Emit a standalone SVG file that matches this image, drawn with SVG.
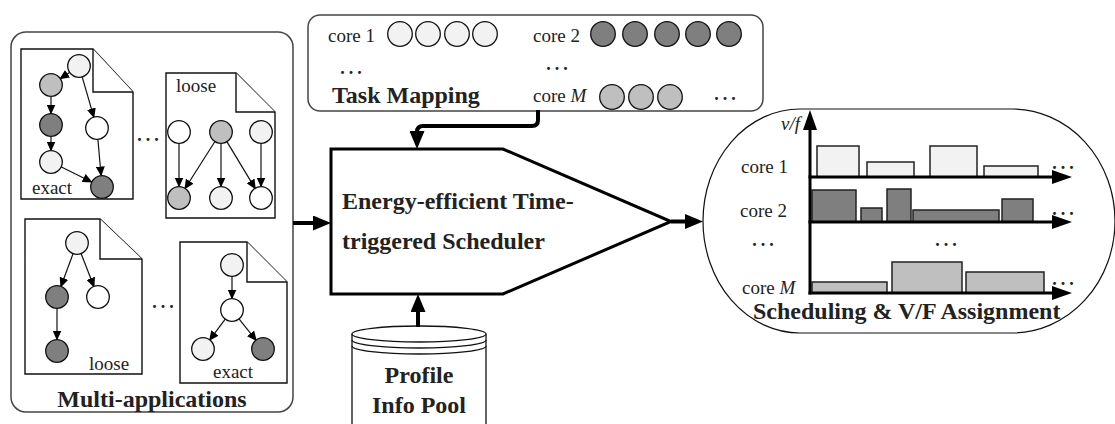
<svg xmlns="http://www.w3.org/2000/svg" width="1115" height="424" viewBox="0 0 1115 424">
<style>
.box{fill:none;stroke:#444;stroke-width:1.5}
.doc{fill:#fff;stroke:#111;stroke-width:1.4}
.n{stroke:#111;stroke-width:1.3}
.lt{fill:#f2f2f2}.gy{fill:#bfbfbf}.dk{fill:#7f7f7f}.wh{fill:#fff}
.e{stroke:#111;stroke-width:1.2;fill:none;marker-end:url(#ta)}
.thick{stroke:#000;stroke-width:4;fill:none;marker-end:url(#ba)}
.ax{stroke:#000;stroke-width:3;fill:none}
.t{font-family:"Liberation Serif","Times New Roman",serif;font-size:19px;fill:#222}
.b{font-family:"Liberation Serif","Times New Roman",serif;font-size:24px;font-weight:bold;fill:#222}
.d{font-family:"Liberation Serif","Times New Roman",serif;font-size:18px;font-weight:bold;fill:#222;letter-spacing:4px;text-anchor:middle}
.bar{stroke:#222;stroke-width:1.5}
</style>
<defs>
<marker id="ta" markerUnits="userSpaceOnUse" markerWidth="10" markerHeight="9" refX="9" refY="4.5" orient="auto"><path d="M0,0 L10,4.5 L0,9 z" fill="#000"/></marker>
<marker id="ba" markerUnits="userSpaceOnUse" markerWidth="18" markerHeight="15" refX="8" refY="7.5" orient="auto"><path d="M0,0 L18,7.5 L0,15 z" fill="#000"/></marker>
<marker id="axa" markerUnits="userSpaceOnUse" markerWidth="20" markerHeight="14" refX="6" refY="7" orient="auto"><path d="M0,0 L20,7 L0,14 z" fill="#000"/></marker>
</defs>

<g id="multi-applications">
<rect class="box" x="11" y="32" width="282" height="380" rx="15"/>
<text class="b" x="152" y="407" text-anchor="middle">Multi-applications</text>
<g id="app1">
<path class="doc" d="M21,49 L93,49 L133,92 L133,199 L21,199 Z"/>
<path class="doc" d="M93,49 L93,92 L133,92" fill="none"/>
<line class="e" x1="69.9" y1="72.2" x2="60.1" y2="78.8"/>
<line class="e" x1="51" y1="96.5" x2="51" y2="113.5"/>
<line class="e" x1="51" y1="136.5" x2="51" y2="150.5"/>
<line class="e" x1="82.1" y1="76.6" x2="93.9" y2="117.4"/>
<line class="e" x1="97.9" y1="139.5" x2="101.1" y2="175.5"/>
<line class="e" x1="60.9" y1="166.8" x2="91.7" y2="182"/>
<circle class="n lt" cx="79" cy="66" r="11.3"/>
<circle class="n gy" cx="51" cy="85" r="11.3"/>
<circle class="n dk" cx="51" cy="125" r="11.3"/>
<circle class="n lt" cx="51" cy="162" r="11.3"/>
<circle class="n wh" cx="97" cy="128" r="11.3"/>
<circle class="n dk" cx="102" cy="187" r="11.3"/>
<text class="t" x="32" y="194">exact</text>
</g>
<text class="d" x="150" y="141">...</text>
<g id="app2">
<path class="doc" d="M166,73 L236,73 L275,112 L275,218 L166,218 Z"/>
<path class="doc" d="M236,73 L236,112 L275,112" fill="none"/>
<line class="e" x1="179" y1="143.5" x2="179" y2="186.5"/>
<line class="e" x1="215.1" y1="141.3" x2="184.9" y2="188.7"/>
<line class="e" x1="221" y1="143.5" x2="221" y2="186.5"/>
<line class="e" x1="226.7" y1="141.4" x2="255.3" y2="188.6"/>
<line class="e" x1="261" y1="143.5" x2="261" y2="186.5"/>
<circle class="n wh" cx="179" cy="132" r="11.3"/>
<circle class="n gy" cx="221" cy="132" r="11.3"/>
<circle class="n lt" cx="261" cy="132" r="11.3"/>
<circle class="n gy" cx="179" cy="198" r="11.3"/>
<circle class="n lt" cx="221" cy="198" r="11.3"/>
<circle class="n wh" cx="261" cy="198" r="11.3"/>
<text class="t" x="176" y="92">loose</text>
</g>
<g id="app3">
<path class="doc" d="M25,219 L100,219 L142,259 L142,374 L25,374 Z"/>
<path class="doc" d="M100,219 L100,259 L142,259" fill="none"/>
<line class="e" x1="73.2" y1="253.3" x2="60.8" y2="286.7"/>
<line class="e" x1="81" y1="253.3" x2="94" y2="286.7"/>
<line class="e" x1="57" y1="308.5" x2="57" y2="339.5"/>
<circle class="n lt" cx="77" cy="243" r="11.3"/>
<circle class="n dk" cx="57" cy="297" r="11.3"/>
<circle class="n wh" cx="98" cy="297" r="11.3"/>
<circle class="n dk" cx="57" cy="351" r="11.3"/>
<text class="t" x="89" y="370">loose</text>
</g>
<text class="d" x="165" y="308">...</text>
<g id="app4">
<path class="doc" d="M180,242 L247,242 L287,282 L287,383 L180,383 Z"/>
<path class="doc" d="M247,242 L247,282 L287,282" fill="none"/>
<line class="e" x1="232" y1="276.5" x2="232" y2="298.5"/>
<line class="e" x1="225.4" y1="318.8" x2="209.6" y2="340.2"/>
<line class="e" x1="238.8" y1="318.6" x2="256.2" y2="340.4"/>
<circle class="n lt" cx="232" cy="265" r="11.3"/>
<circle class="n wh" cx="232" cy="310" r="11.3"/>
<circle class="n lt" cx="203" cy="349" r="11.3"/>
<circle class="n dk" cx="263" cy="349" r="11.3"/>
<text class="t" x="213" y="378">exact</text>
</g>
</g>

<g id="task-mapping">
<rect class="box" x="308" y="15" width="455" height="96" rx="12"/>
<text class="t" x="328" y="42">core 1</text>
<circle class="n lt" cx="400" cy="34" r="12.3"/>
<circle class="n lt" cx="428" cy="34" r="12.3"/>
<circle class="n lt" cx="457" cy="34" r="12.3"/>
<circle class="n lt" cx="485" cy="34" r="12.3"/>
<text class="t" x="533" y="42">core 2</text>
<circle class="n dk" cx="603" cy="34" r="12.3"/>
<circle class="n dk" cx="635" cy="34" r="12.3"/>
<circle class="n dk" cx="667" cy="34" r="12.3"/>
<circle class="n dk" cx="698" cy="34" r="12.3"/>
<circle class="n dk" cx="729" cy="34" r="12.3"/>
<text class="d" x="353" y="74">...</text>
<text class="d" x="559" y="70">...</text>
<text class="b" x="332" y="103">Task Mapping</text>
<text class="t" x="533" y="102">core <tspan font-style="italic">M</tspan></text>
<circle class="n gy" cx="612" cy="97" r="12.3"/>
<circle class="n gy" cx="641" cy="97" r="12.3"/>
<circle class="n gy" cx="670" cy="97" r="12.3"/>
<text class="d" x="727" y="100">...</text>
</g>

<g id="scheduler">
<path d="M331,149 L503,149 L671,221.5 L503,294 L331,294 Z" fill="#fff" stroke="#000" stroke-width="3"/>
<text class="b" x="342" y="209">Energy-efficient Time-</text>
<text class="b" x="342" y="249">triggered Scheduler</text>
</g>

<g id="profile-info-pool">
<path d="M352,334 L352,430 M486,334 L486,430" stroke="#111" stroke-width="1.3" fill="none"/>
<ellipse cx="419" cy="334" rx="67" ry="8" fill="#fff" stroke="#111" stroke-width="1.3"/>
<path d="M352,340 A67,8 0 0 0 486,340 M352,346 A67,8 0 0 0 486,346" stroke="#111" stroke-width="1.3" fill="none"/>
<text class="b" x="419" y="383" text-anchor="middle">Profile</text>
<text class="b" x="419" y="413" text-anchor="middle">Info Pool</text>
</g>

<g id="scheduling-vf">
<path d="M800,109 L1012,109 A103,112 0 0 1 1012,333 L800,333 A97,112 0 0 1 800,109 Z" fill="none" stroke="#111" stroke-width="1.2"/>
<rect class="bar lt" x="817" y="146" width="42" height="31"/>
<rect class="bar lt" x="867" y="162" width="47" height="15"/>
<rect class="bar lt" x="930" y="146" width="47" height="31"/>
<rect class="bar lt" x="984" y="166" width="54" height="11"/>
<rect class="bar dk" x="812" y="190" width="44" height="32"/>
<rect class="bar dk" x="861" y="208" width="21" height="14"/>
<rect class="bar dk" x="887" y="189" width="24" height="33"/>
<rect class="bar dk" x="913" y="210" width="86" height="12"/>
<rect class="bar dk" x="1002" y="199" width="31" height="23"/>
<rect class="bar gy" x="812" y="282" width="75" height="11"/>
<rect class="bar gy" x="892" y="262" width="70" height="31"/>
<rect class="bar gy" x="966" y="272" width="78" height="21"/>
<path class="ax" d="M810,294.5 L810,124" marker-end="url(#axa)"/>
<path class="ax" d="M808.5,177 L1058,177" marker-end="url(#axa)"/>
<path class="ax" d="M808.5,222 L1058,222" marker-end="url(#axa)"/>
<path class="ax" d="M808.5,293 L1058,293" marker-end="url(#axa)"/>
<text class="t" x="800" y="130" text-anchor="end" font-style="italic" font-size="22">v/f</text>
<text class="t" x="741" y="173">core 1</text>
<text class="t" x="740" y="217">core 2</text>
<text class="t" x="742" y="294">core <tspan font-style="italic">M</tspan></text>
<text class="d" x="765" y="246">...</text>
<text class="d" x="948" y="246">...</text>
<text class="d" x="1065" y="169">...</text>
<text class="d" x="1065" y="215">...</text>
<text class="d" x="1065" y="285">...</text>
<text class="b" x="753" y="319">Scheduling &amp; V/F Assignment</text>
</g>

<g id="connectors">
<path class="thick" d="M293,223 L321,223"/>
<path class="thick" d="M538,110 L538,120 Q538,126 532,126 L423,126 Q417,126 417,132 L417,139"/>
<path class="thick" d="M418,327 L418,304"/>
<path class="thick" d="M671,221.5 L693,221.5"/>
</g>
</svg>
